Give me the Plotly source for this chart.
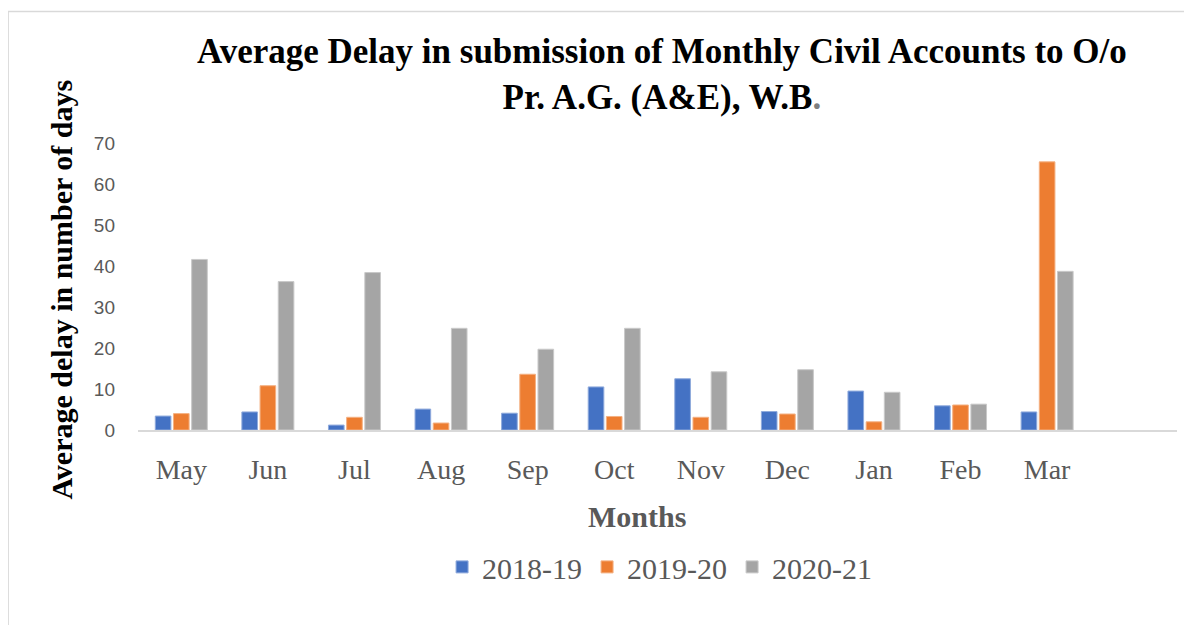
import plotly.graph_objects as go

months = ["May", "Jun", "Jul", "Aug", "Sep", "Oct", "Nov", "Dec", "Jan", "Feb", "Mar"]
s2018_19 = [3.4, 4.4, 1.2, 5.1, 4.1, 10.5, 12.5, 4.5, 9.5, 5.9, 4.4]
s2019_20 = [4.0, 10.8, 3.1, 1.7, 13.6, 3.3, 3.1, 3.9, 2.0, 6.1, 65.4]
s2020_21 = [41.6, 36.2, 38.4, 24.8, 19.7, 24.8, 14.2, 14.7, 9.2, 6.3, 38.7]
series_names = ["2018-19", "2019-20", "2020-21"]
colors = ["#4472C4", "#ED7D31", "#A5A5A5"]
edge_colors = ["#8FAADC", "#F4B183", "#C9C9C9"]

fig = go.Figure()
for name, vals, c, ec in zip(series_names, [s2018_19, s2019_20, s2020_21], colors, edge_colors):
    fig.add_trace(go.Bar(x=months, y=vals, name=name, marker=dict(color=c, line=dict(color=ec, width=1))))

serif = "Liberation Serif"
fig.update_layout(
    width=1184, height=617,
    margin=dict(l=130, r=15, t=135, b=195),
    paper_bgcolor="white", plot_bgcolor="white",
    barmode="group", bargap=0.37, bargroupgap=0.14,
    showlegend=True,
    legend=dict(orientation="h", x=0.502, xanchor="center", y=-0.477, yanchor="middle",
                font=dict(family=serif, size=30, color="#595959"), itemwidth=30,
                traceorder="normal"),
    xaxis=dict(range=[-0.5, 11.5], showgrid=False, showline=True, linecolor="#D9D9D9", linewidth=2,
               ticks="", tickfont=dict(family=serif, size=28, color="#595959"), ticklabelstandoff=13),
    yaxis=dict(range=[0, 70], dtick=10, showgrid=False, showline=False, zeroline=False, ticks="",
               tickfont=dict(family="Liberation Sans", size=19, color="#595959"), ticklabelstandoff=22),
    annotations=[
        dict(text="<b>Average Delay in submission of Monthly Civil Accounts to O/o<br>Pr. A.G. (A&E), W.B<span style='color:#7f7f7f'>.</span></b>",
             xref="paper", yref="paper", x=0.504, y=1.24, xanchor="center", yanchor="middle",
             showarrow=False, font=dict(family=serif, size=35, color="black")),
        dict(text="<b>Average delay in number of days</b>", xref="paper", yref="paper",
             x=-0.0735, y=0.488, xanchor="center", yanchor="middle", textangle=-90,
             showarrow=False, font=dict(family=serif, size=30, color="black")),
        dict(text="<b>Months</b>", xref="paper", yref="paper", x=0.480, y=-0.303,
             xanchor="center", yanchor="middle", showarrow=False,
             font=dict(family=serif, size=30, color="#595959")),
    ],
    shapes=[dict(type="rect", xref="paper", yref="paper", x0=-0.125, x1=1.2, y0=-1.0, y1=1.458,
                 line=dict(color="#D9D9D9", width=1.5), fillcolor="rgba(0,0,0,0)", layer="below")],
)
fig.write_html("out.html")
